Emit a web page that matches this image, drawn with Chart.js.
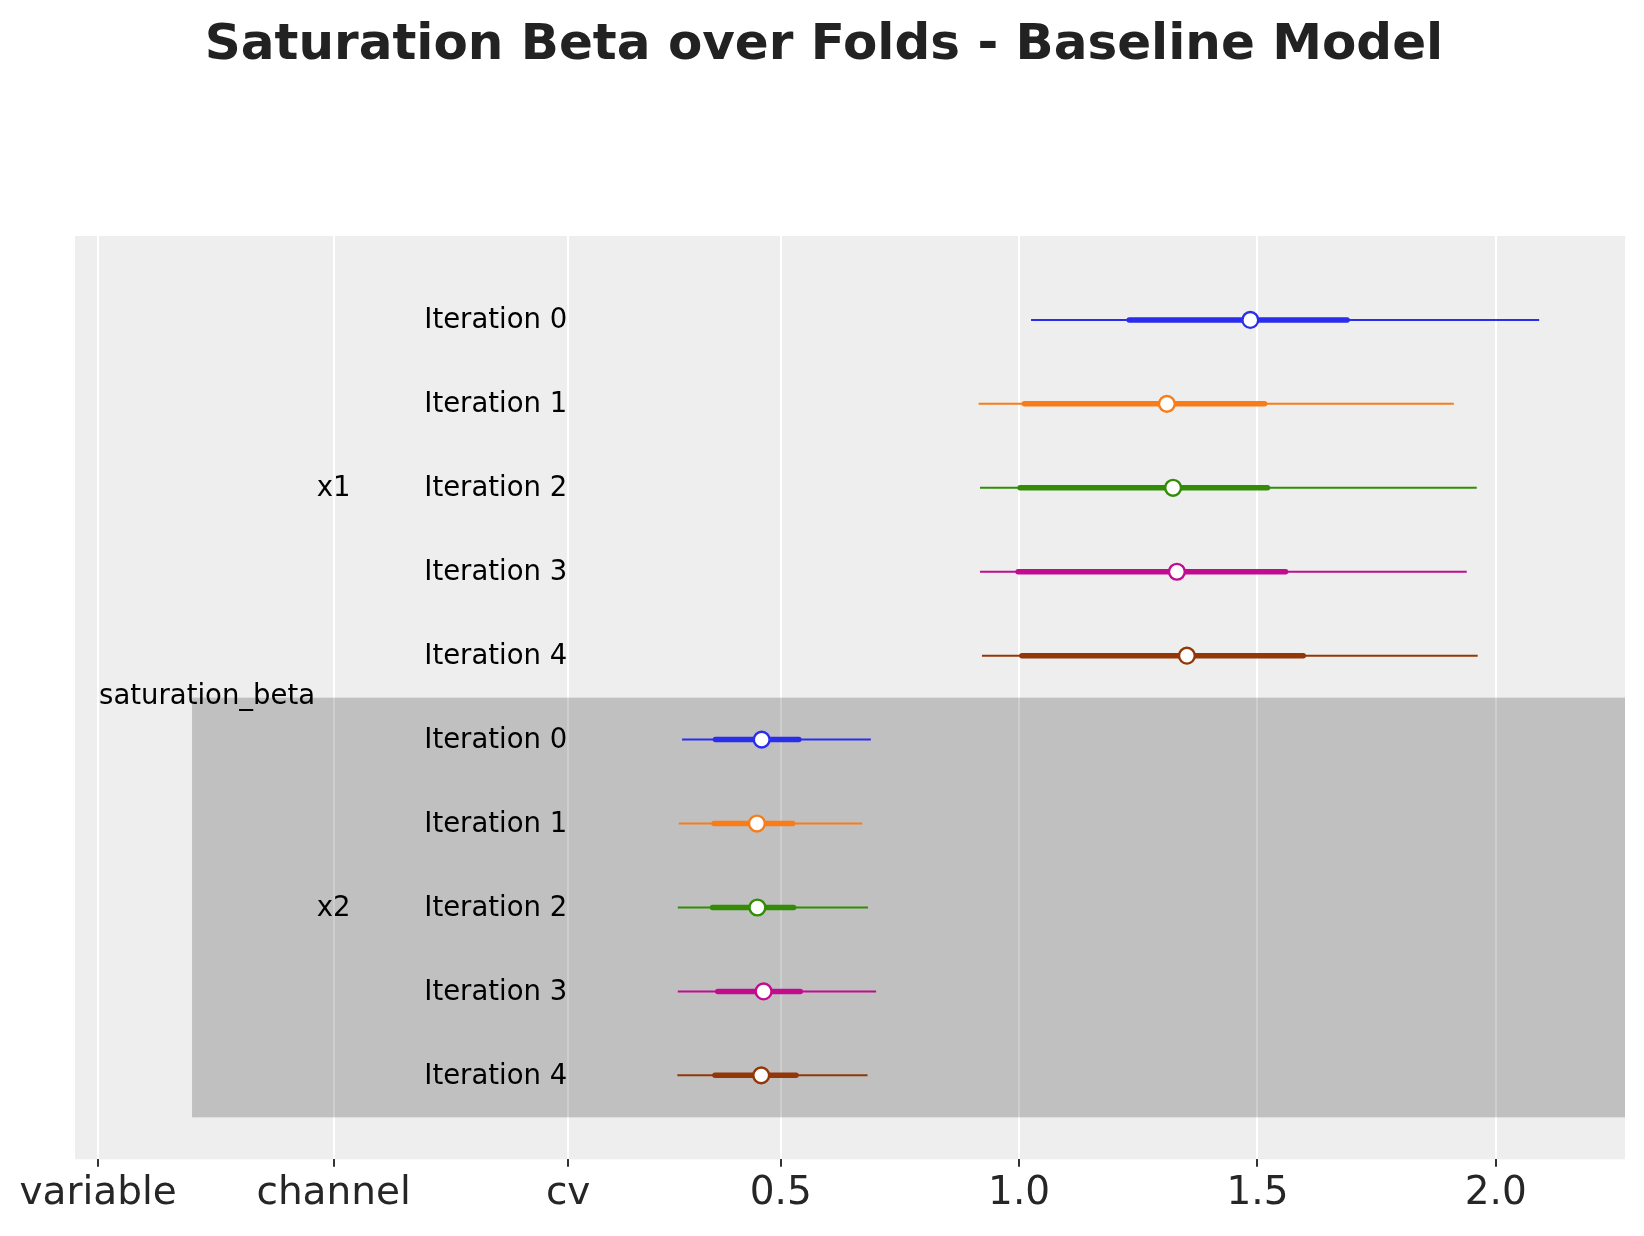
<!DOCTYPE html>
<html>
<head>
<meta charset="utf-8">
<title>Saturation Beta over Folds - Baseline Model</title>
<script src="https://cdn.jsdelivr.net/npm/chart.js@4.4.1/dist/chart.umd.min.js"></script>
<style>
  html, body { margin: 0; padding: 0; background: #ffffff; overflow: hidden; }
  #wrap { width: 1644px; height: 1236px; position: relative; }
</style>
</head>
<body>
<div id="wrap"><canvas id="forest"></canvas></div>
<script>
// forest plot data
const variableName = 'saturation_beta';
const channels = ['x1', 'x2'];
const iterations = ['Iteration 0', 'Iteration 1', 'Iteration 2', 'Iteration 3', 'Iteration 4'];
const colors = ['#2a2eec', '#fa7c17', '#328c06', '#c10c90', '#933708'];

// x1
const x1Median = [1.485, 1.310, 1.323, 1.331, 1.352];
const x1ThinLow = [1.025, 0.915, 0.918, 0.918, 0.922];
const x1ThinHigh = [2.091, 1.912, 1.960, 1.939, 1.962];
const x1ThickLow = [1.231, 1.011, 1.002, 0.998, 1.006];
const x1ThickHigh = [1.688, 1.515, 1.521, 1.559, 1.596];

// x2
const x2Median = [0.460, 0.450, 0.451, 0.464, 0.459];
const x2ThinLow = [0.293, 0.286, 0.284, 0.284, 0.283];
const x2ThinHigh = [0.689, 0.671, 0.683, 0.700, 0.682];
const x2ThickLow = [0.363, 0.360, 0.357, 0.368, 0.362];
const x2ThickHigh = [0.538, 0.525, 0.527, 0.541, 0.532];

// x axis ticks (label columns + value ticks)
const tickVals = [-0.932, -0.438, 0.054, 0.5, 1.0, 1.5, 2.0];
const tickText = ['variable', 'channel', 'cv', '0.5', '1.0', '1.5', '2.0'];

Chart.defaults.font.family = "'DejaVu Sans', sans-serif";

const groups = [
    { median: x1Median, thinLow: x1ThinLow, thinHigh: x1ThinHigh, thickLow: x1ThickLow, thickHigh: x1ThickHigh },
    { median: x2Median, thinLow: x2ThinLow, thinHigh: x2ThinHigh, thickLow: x2ThickLow, thickHigh: x2ThickHigh }
];

const datasets = [];
groups.forEach((g, gi) => {
    iterations.forEach((it, i) => {
        const row = gi * iterations.length + i + 1;
        const c = colors[i];
        datasets.push({
            label: channels[gi] + ' ' + it + ' hdi',
            data: [{ x: g.thinLow[i], y: row }, { x: g.thinHigh[i], y: row }],
            showLine: true,
            borderColor: c,
            borderWidth: 2,
            pointRadius: 0,
            order: 3
        });
        datasets.push({
            label: channels[gi] + ' ' + it + ' iqr',
            data: [{ x: g.thickLow[i], y: row }, { x: g.thickHigh[i], y: row }],
            showLine: true,
            borderColor: c,
            borderWidth: 5.5,
            borderCapStyle: 'round',
            pointRadius: 0,
            order: 2
        });
        datasets.push({
            label: channels[gi] + ' ' + it + ' median',
            data: [{ x: g.median[i], y: row }],
            showLine: false,
            pointRadius: 7.9,
            pointBorderWidth: 2.4,
            pointBackgroundColor: '#ffffff',
            pointBorderColor: c,
            order: 1
        });
    });
});

const forestDecor = {
    id: 'forestDecor',
    beforeDraw(chart) {
        const { ctx, chartArea: a } = chart;
        ctx.save();
        ctx.fillStyle = '#eeeeee';
        ctx.fillRect(a.left, a.top, a.right - a.left, a.bottom - a.top);
        ctx.restore();
    },
    beforeDatasetsDraw(chart) {
        // shaded band behind the second channel
        const { ctx, chartArea: a, scales } = chart;
        const y0 = scales.y.getPixelForValue(iterations.length + 0.5);
        const y1 = scales.y.getPixelForValue(iterations.length * 2 + 0.5);
        const x0 = scales.x.getPixelForValue(-0.735);
        ctx.save();
        ctx.fillStyle = 'rgba(0,0,0,0.193)';
        ctx.fillRect(x0, y0, a.right - x0, y1 - y0);
        ctx.restore();
    },
    afterDatasetsDraw(chart) {
        const { ctx, scales } = chart;
        const xs = scales.x, ys = scales.y;
        ctx.save();
        ctx.fillStyle = '#000000';
        ctx.font = "27.5px 'DejaVu Sans', sans-serif";
        ctx.textBaseline = 'alphabetic';
        channels.forEach((ch, gi) => {
            iterations.forEach((it, i) => {
                const row = gi * iterations.length + i + 1;
                ctx.textAlign = 'right';
                ctx.fillText(it, xs.getPixelForValue(tickVals[2]) - 1, ys.getPixelForValue(row) + 8.5);
            });
            ctx.textAlign = 'center';
            ctx.fillText(ch, xs.getPixelForValue(tickVals[1]), ys.getPixelForValue(gi * iterations.length + 3) + 8.5);
        });
        ctx.textAlign = 'left';
        ctx.fillText(variableName, xs.getPixelForValue(tickVals[0]) + 1, ys.getPixelForValue(iterations.length + 0.5) + 6.5);
        ctx.restore();
    },
    afterDraw(chart) {
        const { ctx } = chart;
        ctx.save();
        ctx.fillStyle = '#222222';
        ctx.font = "bold 50px 'DejaVu Sans', sans-serif";
        ctx.textAlign = 'center';
        ctx.textBaseline = 'alphabetic';
        ctx.fillText('Saturation Beta over Folds - Baseline Model', chart.width / 2 + 2, 58.5);
        ctx.restore();
    }
};

new Chart(document.getElementById('forest'), {
    type: 'scatter',
    data: { datasets: datasets },
    options: {
        responsive: true,
        maintainAspectRatio: false,
        animation: false,
        layout: {
            padding: { left: 75, right: 19, top: 236, bottom: 0 }
        },
        plugins: {
            legend: { display: false },
            tooltip: { enabled: false },
            title: { display: false }
        },
        scales: {
            x: {
                type: 'linear',
                min: -0.9805,
                max: 2.271,
                afterBuildTicks: (scale) => {
                    scale.ticks = tickVals.map(v => ({ value: v }));
                },
                afterFit: (scale) => {
                    scale.height = 76.7;
                    scale.paddingLeft = 0;
                    scale.paddingRight = 0;
                },
                border: { display: false },
                grid: {
                    color: '#ffffff',
                    lineWidth: 2,
                    drawTicks: true,
                    tickLength: 7.5,
                    tickColor: '#333333',
                    tickWidth: 2
                },
                ticks: {
                    autoSkip: false,
                    maxRotation: 0,
                    padding: 4,
                    color: '#262626',
                    font: { size: 39 },
                    callback: (value, index) => tickText[index]
                }
            },
            y: {
                type: 'linear',
                display: false,
                reverse: true,
                min: 0,
                max: 11
            }
        }
    },
    plugins: [forestDecor]
});
</script>
</body>
</html>
